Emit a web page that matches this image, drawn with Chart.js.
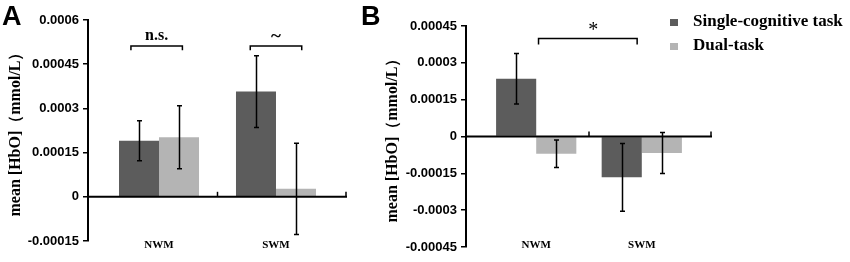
<!DOCTYPE html>
<html><head><meta charset="utf-8">
<script src="https://cdn.jsdelivr.net/npm/chart.js@4.4.1/dist/chart.umd.min.js"></script>
<style>
html,body{margin:0;padding:0;background:#fff;}
#wrap{position:relative;width:850px;height:262px;overflow:hidden;background:#fff;}
canvas{position:absolute;top:0;}
.panel{position:absolute;font:bold 27px "Liberation Sans",Arial,sans-serif;line-height:27px;color:#000;z-index:2;}
.leg{position:absolute;font:bold 17px "Liberation Serif","Times New Roman",serif;line-height:17px;color:#000;white-space:nowrap;}
.sw{position:absolute;width:8px;height:7px;}
</style></head><body>
<div id="wrap">
<canvas id="cA" width="360" height="262" style="left:0"></canvas>
<canvas id="cB" width="470" height="262" style="left:380px"></canvas>
<div class="panel" style="left:2px;top:3px">A</div>
<div class="panel" style="left:361px;top:3px">B</div>
<div id="legend"></div>
</div>
<script>
// ---------- data ----------
const categories = ['NWM', 'SWM'];
const seriesNames = ['Single-cognitive task', 'Dual-task'];
const seriesColors = ['#5c5c5c', '#b4b4b4'];
const yTitle = 'mean [HbO]（mmol/L）';

// Panel A
const singleA = [0.00019, 0.000357];
const dualA = [0.000202, 0.000027];
const singleErrA = [0.000068, 0.000122];
const dualErrA = [0.000107, 0.000155];
const yTicksA = [-0.00015, 0, 0.00015, 0.0003, 0.00045, 0.0006];
const yTickLabelsA = ['-0.00015', '0', '0.00015', '0.0003', '0.00045', '0.0006'];
const bracketFromA = [-0.24, 0.78];
const bracketToA = [0.2, 1.22];
const bracketTopA = [0.000512, 0.000512];
const bracketEndA = [0.000497, 0.000497];
const bracketLabelsA = ['n.s.', '~'];
const bracketLabelXA = [-0.02, 1.0];
const bracketLabelYA = [0.000546, 0.000543];

// Panel B
const singleB = [0.000235, -0.000166];
const dualB = [-0.00007, -0.0000675];
const singleErrB = [0.000103, 0.000138];
const dualErrB = [0.000056, 0.0000836];
const yTicksB = [-0.00045, -0.0003, -0.00015, 0, 0.00015, 0.0003, 0.00045];
const yTickLabelsB = ['-0.00045', '-0.0003', '-0.00015', '0', '0.00015', '0.0003', '0.00045'];
const bracketFromB = [0.022];
const bracketToB = [0.956];
const bracketTopB = [0.000399];
const bracketEndB = [0.000375];
const bracketLabelsB = ['*'];
const bracketLabelXB = [0.54];
const bracketLabelYB = [0.00043];

// ---------- drawing ----------
const overlay = {
  id: 'overlay',
  afterDatasetsDraw(chart, args, o) {
    const {ctx, chartArea} = chart;
    const x = chart.scales.x, y = chart.scales.y;
    const y0 = y.getPixelForValue(0);
    ctx.save();
    ctx.strokeStyle = '#000';
    ctx.fillStyle = '#000';
    // error bars
    ctx.lineWidth = 1.5;
    o.errors.forEach((errs, di) => {
      const meta = chart.getDatasetMeta(di);
      meta.data.forEach((bar, i) => {
        const v = o.values[di][i];
        const t = y.getPixelForValue(v + errs[i]);
        const b = y.getPixelForValue(v - errs[i]);
        const cx = Math.round(bar.x) + 0.5;
        ctx.beginPath();
        ctx.moveTo(cx, t); ctx.lineTo(cx, b);
        ctx.moveTo(cx - 2.5, t); ctx.lineTo(cx + 2.5, t);
        ctx.moveTo(cx - 2.5, b); ctx.lineTo(cx + 2.5, b);
        ctx.stroke();
      });
    });
    // zero axis line
    ctx.lineWidth = 2;
    ctx.beginPath();
    ctx.moveTo(chartArea.left, y0); ctx.lineTo(chartArea.right, y0);
    ctx.stroke();
    ctx.lineWidth = 1.5;
    [0.5, x.max].forEach(v => {
      const px = Math.min(x.getPixelForValue(v), chartArea.right - 1);
      ctx.beginPath(); ctx.moveTo(px, y0); ctx.lineTo(px, y0 - 5); ctx.stroke();
    });
    // category labels
    ctx.font = "bold 11px 'Liberation Serif'";
    ctx.textAlign = 'center';
    ctx.textBaseline = 'middle';
    categories.forEach((c, i) => {
      ctx.fillText(c, x.getPixelForValue(i), o.catLabelY);
    });
    // significance brackets
    ctx.lineWidth = 1.5;
    o.bFrom.forEach((f, i) => {
      const xa = x.getPixelForValue(f), xb = x.getPixelForValue(o.bTo[i]);
      const yt = y.getPixelForValue(o.bTop[i]), ye = y.getPixelForValue(o.bEnd[i]);
      ctx.beginPath();
      ctx.moveTo(xa, ye); ctx.lineTo(xa, yt); ctx.lineTo(xb, yt); ctx.lineTo(xb, ye);
      ctx.stroke();
      ctx.font = o.labelFonts[i];
      ctx.textAlign = 'center';
      ctx.textBaseline = 'middle';
      ctx.fillText(o.bLabels[i], x.getPixelForValue(o.bLabelX[i]), y.getPixelForValue(o.bLabelY[i]));
    });
    ctx.restore();
  }
};

function makeChart(id, cfg) {
  const ds = [cfg.single, cfg.dual].map((vals, k) => ({
    label: seriesNames[k],
    data: categories.map((c, i) => ({x: i, y: vals[i]})),
    backgroundColor: seriesColors[k],
    borderWidth: 0,
    categoryPercentage: cfg.catPct,
    barPercentage: 1
  }));
  return new Chart(document.getElementById(id), {
    type: 'bar',
    data: {datasets: ds},
    plugins: [overlay],
    options: {
      responsive: false,
      animation: false,
      devicePixelRatio: 1,
      layout: {padding: cfg.padding},
      plugins: {
        legend: {display: false},
        tooltip: {enabled: false},
        overlay: {
          values: [cfg.single, cfg.dual],
          errors: [cfg.singleErr, cfg.dualErr],
          bFrom: cfg.bFrom, bTo: cfg.bTo, bTop: cfg.bTop, bEnd: cfg.bEnd,
          bLabels: cfg.bLabels, bLabelX: cfg.bLabelX, bLabelY: cfg.bLabelY,
          labelFonts: cfg.labelFonts, catLabelY: cfg.catLabelY
        }
      },
      scales: {
        x: {
          type: 'linear',
          min: cfg.xMin, max: cfg.xMax,
          offset: false,
          afterBuildTicks: s => { s.ticks = categories.map((c, i) => ({value: i})); },
          afterFit: s => { s.height = cfg.xHeight; },
          grid: {display: false, drawTicks: false},
          border: {display: false},
          ticks: {display: false}
        },
        y: {
          min: cfg.yTicks[0], max: cfg.yTicks[cfg.yTicks.length - 1],
          afterBuildTicks: s => { s.ticks = cfg.yTicks.map(v => ({value: v})); },
          afterFit: s => { s.width = cfg.yWidth; },
          border: {display: true, color: '#000', width: 2},
          grid: {drawOnChartArea: false, drawTicks: true, tickLength: 5, color: '#000', lineWidth: 1.5},
          ticks: {
            padding: 4, color: '#000',
            font: {family: "'Liberation Sans'", size: 13, weight: 'bold'},
            callback: v => cfg.yLabels[cfg.yTicks.indexOf(v)]
          },
          title: {
            display: true, text: yTitle, color: '#000',
            font: {family: "'Liberation Serif'", size: 16, weight: 'bold'},
            padding: {top: cfg.titlePad, bottom: 0}
          }
        }
      }
    }
  });
}

makeChart('cA', {
  single: singleA, dual: dualA, singleErr: singleErrA, dualErr: dualErrA,
  yTicks: yTicksA, yLabels: yTickLabelsA,
  bFrom: bracketFromA, bTo: bracketToA, bTop: bracketTopA, bEnd: bracketEndA,
  bLabels: bracketLabelsA, bLabelX: bracketLabelXA, bLabelY: bracketLabelYA,
  labelFonts: ["bold 16px 'Liberation Serif'", "bold 19px 'Liberation Serif'"],
  padding: {left: 0, right: 13, top: 20, bottom: 0},
  xMin: -0.607, xMax: 1.607, catPct: 0.684,
  xHeight: 21, yWidth: 88, titlePad: 6, catLabelY: 245.5
});

makeChart('cB', {
  single: singleB, dual: dualB, singleErr: singleErrB, dualErr: dualErrB,
  yTicks: yTicksB, yLabels: yTickLabelsB,
  bFrom: bracketFromB, bTo: bracketToB, bTop: bracketTopB, bEnd: bracketEndB,
  bLabels: bracketLabelsB, bLabelX: bracketLabelXB, bLabelY: bracketLabelYB,
  labelFonts: ["20px 'Liberation Serif'"],
  padding: {left: 0, right: 138, top: 26, bottom: 0},
  xMin: -0.665, xMax: 1.665, catPct: 0.76,
  xHeight: 15, yWidth: 86, titlePad: 3, catLabelY: 245.5
});

// legend (HTML)
const leg = document.getElementById('legend');
const legTops = [12, 35.5];
seriesNames.forEach((name, k) => {
  const sw = document.createElement('div');
  sw.className = 'sw';
  sw.style.left = '670px';
  sw.style.top = (legTops[k] + 7) + 'px';
  sw.style.background = seriesColors[k];
  leg.appendChild(sw);
  const t = document.createElement('div');
  t.className = 'leg';
  t.style.left = '693px';
  t.style.top = legTops[k] + 'px';
  t.textContent = name;
  leg.appendChild(t);
});
</script>
</body></html>
